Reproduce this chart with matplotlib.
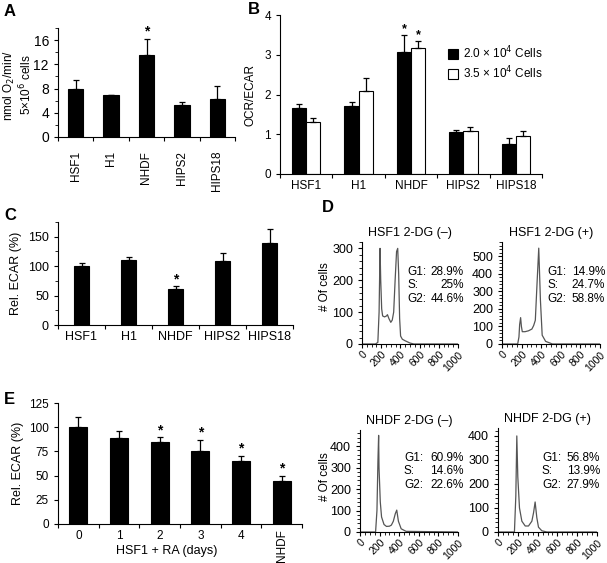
import matplotlib.pyplot as plt
from matplotlib.ticker import MultipleLocator
import numpy as np

plt.rcParams['font.family'] = ['Liberation Sans', 'DejaVu Sans']
plt.rcParams['font.size'] = 9

# ---- data ----
cells = ['HSF1', 'H1', 'NHDF', 'HIPS2', 'HIPS18']

# A: oxygen consumption
o2_rate = [7.9, 6.9, 13.6, 5.3, 6.2]
o2_err = [1.5, 0.1, 2.6, 0.4, 2.3]
o2_sig = [False, False, True, False, False]

# B: OCR/ECAR at two seeding densities
ratio_20k = [1.67, 1.71, 3.08, 1.05, 0.75]
ratio_20k_err = [0.09, 0.10, 0.42, 0.06, 0.15]
ratio_35k = [1.30, 2.08, 3.18, 1.09, 0.96]
ratio_35k_err = [0.10, 0.34, 0.17, 0.10, 0.12]
ratio_sig = [False, False, True, False, False]

# C: relative ECAR
ecar_c = [100, 110, 61, 109, 139]
ecar_c_err = [5, 5, 5, 13, 24]
ecar_c_sig = [False, False, True, False, False]

# E: relative ECAR during RA differentiation
days = ['0', '1', '2', '3', '4', 'NHDF']
ecar_e = [100, 88.5, 85, 75.5, 65, 44.5]
ecar_e_err = [10.5, 7.5, 4.5, 11.5, 5.5, 5.5]
ecar_e_sig = [False, False, True, True, True, True]

# D: DNA content histograms (channel, count)
hsf1_neg_ch = [0, 140, 165, 178, 188, 195, 205, 215, 235, 255, 265, 280, 300, 315, 330, 345, 360, 372, 382, 392, 402, 420, 450, 500, 540, 1000]
hsf1_neg_n = [0, 0, 5, 100, 300, 200, 110, 88, 85, 88, 92, 80, 68, 75, 100, 200, 290, 300, 220, 80, 25, 15, 10, 3, 0, 0]
hsf1_pos_ch = [0, 160, 173, 180, 190, 198, 207, 235, 270, 305, 323, 340, 358, 375, 392, 410, 445, 515, 1000]
hsf1_pos_n = [0, 0, 40, 110, 150, 100, 70, 70, 75, 85, 105, 135, 350, 545, 250, 50, 15, 0, 0]
nhdf_neg_ch = [0, 159, 173, 183, 190, 194, 207, 220, 245, 270, 300, 320, 340, 360, 375, 392, 420, 470, 1000]
nhdf_neg_n = [0, 0, 100, 330, 450, 300, 140, 70, 35, 26, 27, 32, 50, 85, 102, 50, 15, 3, 0]
nhdf_pos_ch = [0, 166, 180, 190, 200, 217, 241, 275, 308, 342, 359, 375, 392, 409, 443, 494, 1000]
nhdf_pos_n = [0, 0, 150, 400, 230, 100, 45, 25, 25, 45, 80, 125, 60, 20, 5, 0, 0]

phase_labels = ['G1:', 'S:', 'G2:']
hsf1_neg_pct = ['28.9%', '25%', '44.6%']
hsf1_pos_pct = ['14.9%', '24.7%', '58.8%']
nhdf_neg_pct = ['60.9%', '14.6%', '22.6%']
nhdf_pos_pct = ['56.8%', '13.9%', '27.9%']

W, H = 607, 563
fig = plt.figure(figsize=(W / 100, H / 100), dpi=100)


def new_axes(left, top, right, bottom):
    return fig.add_axes([left / W, 1 - bottom / H, (right - left) / W, (bottom - top) / H])


def ftext(x, y, s, **kw):
    fig.text(x / W, 1 - y / H, s, **kw)


def style(ax, size=9):
    for s in ['top', 'right']:
        ax.spines[s].set_visible(False)
    ax.spines['left'].set_linewidth(0.8)
    ax.spines['bottom'].set_linewidth(0.8)
    ax.tick_params(direction='out', length=3, width=0.8, labelsize=size)
    ax.tick_params(which='minor', direction='out', length=2, width=0.6)


def cat_axis(ax, labels, size=9, rot=0, pad=3):
    n = len(labels)
    ax.set_xlim(-0.5, n - 0.5)
    ax.set_xticks(np.arange(n))
    ax.set_xticklabels(labels, rotation=rot, fontsize=size)
    ax.tick_params(axis='x', which='major', length=0, pad=pad)
    ax.set_xticks(np.arange(n + 1) - 0.5, minor=True)
    ax.tick_params(axis='x', which='minor', length=3, width=0.8)


def bars(ax, x, vals, errs, width, sig, color='black', star=10):
    ax.bar(x, vals, width, color=color, edgecolor='black', linewidth=0.8, zorder=2)
    ax.errorbar(x, vals, yerr=[np.zeros(len(vals)), errs], fmt='none', ecolor='black',
                elinewidth=0.9, capsize=2.5, capthick=0.9, zorder=3)
    for xi, v, e, s in zip(x, vals, errs, sig):
        if s:
            ax.text(xi, v + e, '*', ha='center', va='bottom', fontsize=star, fontweight='bold')


# ---- A ----
ax = new_axes(58, 28, 235, 137)
x = np.arange(len(cells))
bars(ax, x, o2_rate, o2_err, 0.43, o2_sig)
ax.set_ylim(0, 18)
ax.set_yticks([0, 4, 8, 12, 16])
ax.yaxis.set_minor_locator(MultipleLocator(2))
style(ax, 10)
cat_axis(ax, cells, size=8.5, rot=90, pad=10)
ftext(18, 85, 'nmol O$_2$/min/\n5×10$^6$ cells', rotation=90, ha='center', va='center', fontsize=8.5, linespacing=1.1)

# ---- B ----
ax = new_axes(280, 15, 542, 174)
w = 0.27
ax.bar(x - w / 2, ratio_20k, w, color='black', edgecolor='black', linewidth=0.8,
       label='2.0 × 10$^4$ Cells', zorder=2)
ax.bar(x + w / 2, ratio_35k, w, color='white', edgecolor='black', linewidth=0.8,
       label='3.5 × 10$^4$ Cells', zorder=2)
for off, vals, errs in [(-w / 2, ratio_20k, ratio_20k_err), (w / 2, ratio_35k, ratio_35k_err)]:
    ax.errorbar(x + off, vals, yerr=[np.zeros(len(vals)), errs], fmt='none', ecolor='black',
                elinewidth=0.9, capsize=2.5, capthick=0.9, zorder=3)
    for xi, v, e, s in zip(x + off, vals, errs, ratio_sig):
        if s:
            ax.text(xi, v + e, '*', ha='center', va='bottom', fontsize=9, fontweight='bold')
ax.set_ylim(0, 4)
ax.set_yticks([0, 1, 2, 3, 4])
style(ax, 8.5)
cat_axis(ax, cells, size=8.5, pad=4)
ax.set_ylabel('OCR/ECAR', fontsize=8.5, labelpad=6)
ax.legend(loc='upper left', bbox_to_anchor=(0.6, 0.88), frameon=False, fontsize=8.5,
          handlelength=0.9, handleheight=0.9, handletextpad=0.4, labelspacing=0.25)

# ---- C ----
ax = new_axes(58, 222, 293, 325)
bars(ax, x, ecar_c, ecar_c_err, 0.32, ecar_c_sig)
ax.set_ylim(0, 175)
ax.set_yticks([0, 50, 100, 150])
ax.yaxis.set_minor_locator(MultipleLocator(25))
style(ax, 9)
cat_axis(ax, cells, size=9, pad=4)
ax.set_ylabel('Rel. ECAR (%)', fontsize=9, labelpad=4)

# ---- E ----
ax = new_axes(58, 403, 302, 524)
xe = np.arange(len(days))
bars(ax, xe, ecar_e, ecar_e_err, 0.45, ecar_e_sig)
ax.set_ylim(0, 125)
ax.set_yticks([0, 25, 50, 75, 100, 125])
style(ax, 8.5)
cat_axis(ax, days, size=8.5, pad=4)
ax.get_xticklabels()[-1].set_rotation(90)
ax.get_xticklabels()[-1].set_va('top')
ax.set_ylabel('Rel. ECAR (%)', fontsize=9, labelpad=4)
ftext(167, 551, 'HSF1 + RA (days)', ha='center', va='center', fontsize=9)

# ---- D ----
hists = [
    ((362, 242, 458, 344), hsf1_neg_ch, hsf1_neg_n, 320, 300, 'HSF1 2-DG (–)', hsf1_neg_pct, (407, 464, 272)),
    ((502, 242, 600, 344), hsf1_pos_ch, hsf1_pos_n, 580, 500, 'HSF1 2-DG (+)', hsf1_pos_pct, (547, 605, 272)),
    ((360, 430, 458, 532), nhdf_neg_ch, nhdf_neg_n, 475, 400, 'NHDF 2-DG (–)', nhdf_neg_pct, (404, 464, 458)),
    ((498, 428, 597, 532), nhdf_pos_ch, nhdf_pos_n, 433, 400, 'NHDF 2-DG (+)', nhdf_pos_pct, (542, 600, 458)),
]
for (l, t, r, b), ch, n, ymax, ytop, title, pct, (tx, vx, ty) in hists:
    ax = new_axes(l, t, r, b)
    ax.plot(ch, n, color='#555555', lw=0.9)
    ax.set_xlim(0, 1000)
    ax.set_ylim(0, ymax)
    ax.set_yticks(np.arange(0, ytop + 1, 100))
    ax.set_xticks(np.arange(0, 1001, 200))
    ax.xaxis.set_minor_locator(MultipleLocator(50))
    ax.yaxis.set_minor_locator(MultipleLocator(20))
    style(ax, 9)
    ax.tick_params(axis='x', pad=1)
    ax.set_xticklabels([str(v) for v in range(0, 1001, 200)], rotation=45, ha='right',
                       rotation_mode='anchor', fontsize=7.5)
    ax.set_title(title, fontsize=9, pad=4)
    for i, (lab, p) in enumerate(zip(phase_labels, pct)):
        ftext(tx, ty + i * 13.5, lab, ha='left', va='center', fontsize=8.5)
        ftext(vx, ty + i * 13.5, p, ha='right', va='center', fontsize=8.5)

ftext(325, 287, '# Of cells', rotation=90, ha='center', va='center', fontsize=8.5)
ftext(325, 477, '# Of cells', rotation=90, ha='center', va='center', fontsize=8.5)

# panel letters
for lab, px, py in [('A', 4, 12), ('B', 248, 10), ('C', 4, 216), ('D', 322, 208), ('E', 4, 399)]:
    ftext(px, py, lab, ha='left', va='center', fontsize=12, fontweight='bold')

fig.savefig('out.png', dpi=100)
